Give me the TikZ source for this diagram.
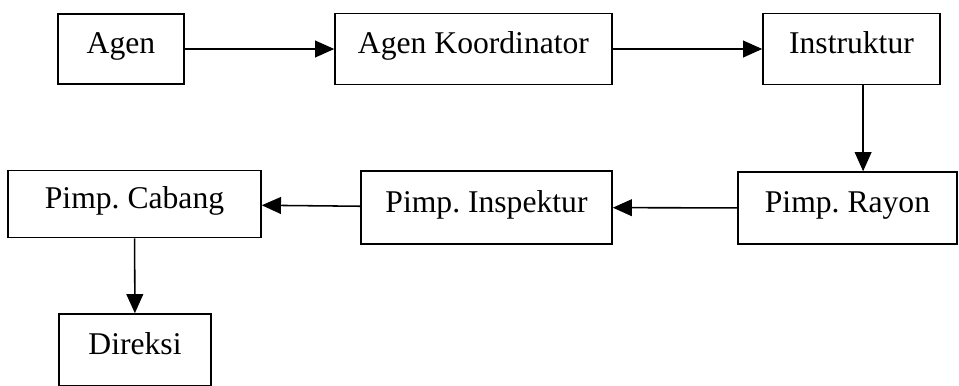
\documentclass[tikz,border=0pt]{standalone}
\usepackage{fontspec}
\setmainfont{Liberation Serif}
\usetikzlibrary{arrows.meta}
\begin{document}
\begin{tikzpicture}[x=0.25mm,y=-0.25mm]
    % line widths
    \def\bw{1.1pt}
    \def\aw{1.1pt}
    % node style definition
    \tikzstyle{block} = [
    	draw, line width=\bw, rectangle, inner sep=0pt,
    	text height=10pt, text depth=3pt,
    	font=\fontsize{22.5}{26}\selectfont ];
    \tikzstyle{arr} = [line width=\aw, -{Triangle[length=4.8mm,width=4.2mm]}];
    \useasboundingbox (0,0) rectangle (959,385);
    % top row
    \node[block, minimum width=126*0.25mm, minimum height=70*0.25mm] (agen) at (121,49) {Agen};
    \node[block, minimum width=277*0.25mm, minimum height=71*0.25mm] (koord) at (473.5,49) {Agen Koordinator};
    \node[block, minimum width=177*0.25mm, minimum height=71*0.25mm] (instr) at (851.5,49) {Instruktur};
    % middle row
    \node[block, minimum width=219*0.25mm, minimum height=72*0.25mm] (rayon) at (847.5,208) {Pimp.\ Rayon};
    \node[block, minimum width=251*0.25mm, minimum height=73*0.25mm] (insp) at (486.5,207.5) {Pimp.\ Inspektur};
    \node[block, minimum width=253*0.25mm, minimum height=67*0.25mm] (cabang) at (134.5,204) {Pimp.\ Cabang};
    % bottom
    \node[block, minimum width=152*0.25mm, minimum height=72*0.25mm] (direksi) at (135,350) {Direksi};
    % connectors
    \draw[arr] (agen) -- (koord);
    \draw[arr] (koord) -- (instr);
    \draw[arr] ([xshift=2.9mm]instr.south) -- ([xshift=2.9mm]instr.south |- rayon.north);
    \draw[arr] (rayon) -- (insp);
    \draw[arr] (insp) -- (cabang);
    \draw[arr] (cabang) -- (direksi);
\end{tikzpicture}
\end{document}
